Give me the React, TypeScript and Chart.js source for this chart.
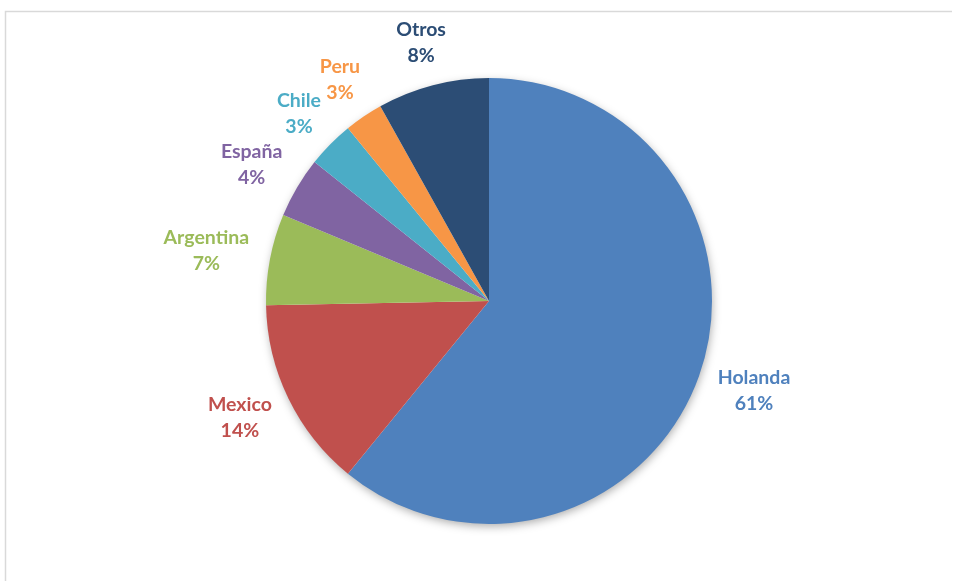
import React, { useEffect, useRef } from "react";
import { Chart, registerables } from "chart.js";

Chart.register(...registerables);

const categories = ["Holanda", "Mexico", "Argentina", "España", "Chile", "Peru", "Otros"];
const values = [60.9, 13.8, 6.6, 4.4, 3.4, 2.8, 8.1];
const percentLabels = ["61%", "14%", "7%", "4%", "3%", "3%", "8%"];
const colors = ["#4F81BD", "#C0504D", "#9BBB59", "#8064A2", "#4BACC6", "#F79646", "#2C4D75"];

const framePlugin = {
  id: "frame",
  beforeDraw(chart: any) {
    const ctx = chart.ctx;
    ctx.save();
    ctx.fillStyle = "#ffffff";
    ctx.fillRect(0, 0, chart.width, chart.height);
    ctx.strokeStyle = "#d9d9d9";
    ctx.lineWidth = 1.5;
    ctx.beginPath();
    ctx.moveTo(5.5, chart.height);
    ctx.lineTo(5.5, 11.5);
    ctx.lineTo(952, 11.5);
    ctx.stroke();
    ctx.restore();
  },
};

const shadowPlugin = {
  id: "pieShadow",
  beforeDatasetsDraw(chart: any) {
    const meta = chart.getDatasetMeta(0);
    const arc = meta.data[0];
    if (!arc) return;
    const { x, y, outerRadius } = arc.getProps(["x", "y", "outerRadius"], true);
    const ctx = chart.ctx;
    ctx.save();
    ctx.shadowColor = "rgba(0,0,0,0.35)";
    ctx.shadowBlur = 10;
    ctx.shadowOffsetX = 1;
    ctx.shadowOffsetY = 3;
    ctx.fillStyle = "#ffffff";
    ctx.beginPath();
    ctx.arc(x, y, outerRadius - 1, 0, Math.PI * 2);
    ctx.fill();
    ctx.restore();
  },
};

const labelPlugin = {
  id: "outerLabels",
  afterDatasetsDraw(chart: any) {
    const meta = chart.getDatasetMeta(0);
    const ctx = chart.ctx;
    ctx.save();
    ctx.font = "bold 19.5px Lato, 'Open Sans', sans-serif";
    ctx.textAlign = "center";
    ctx.textBaseline = "middle";
    const lineGap = 26;
    meta.data.forEach((el: any, i: number) => {
      const { x, y, startAngle, endAngle, outerRadius } = el.getProps(
        ["x", "y", "startAngle", "endAngle", "outerRadius"],
        true
      );
      const mid = (startAngle + endAngle) / 2;
      const dx = Math.cos(mid);
      const dy = Math.sin(mid);
      const r = outerRadius + 20;
      const ax = x + dx * r;
      const ay = y + dy * r;
      const halfW =
        Math.max(ctx.measureText(categories[i]).width, ctx.measureText(percentLabels[i]).width) / 2 + 2;
      const halfH = lineGap / 2 + 11;
      const lx = ax + dx * halfW;
      const ly = ay + dy * halfH;
      ctx.fillStyle = colors[i];
      ctx.fillText(categories[i], lx, ly - lineGap / 2);
      ctx.fillText(percentLabels[i], lx, ly + lineGap / 2);
    });
    ctx.restore();
  },
};

export default function App() {
  const ref = useRef<HTMLCanvasElement | null>(null);
  useEffect(() => {
    document.body.style.margin = "0";
    const canvas = ref.current;
    if (!canvas) return;
    const chart = new Chart(canvas, {
      type: "pie",
      data: {
        labels: categories,
        datasets: [
          {
            data: values,
            backgroundColor: colors,
            borderWidth: 0,
            hoverOffset: 0,
          },
        ],
      },
      options: {
        responsive: false,
        animation: false,
        layout: { padding: { left: 266, right: 242, top: 78, bottom: 57 } },
        plugins: {
          legend: { display: false },
          tooltip: { enabled: false },
        },
      },
      plugins: [framePlugin, shadowPlugin, labelPlugin],
    });
    return () => chart.destroy();
  }, []);
  return (
    <div style={{ width: 954, height: 581 }}>
      <canvas ref={ref} width={954} height={581} style={{ width: 954, height: 581, display: "block" }} />
    </div>
  );
}
